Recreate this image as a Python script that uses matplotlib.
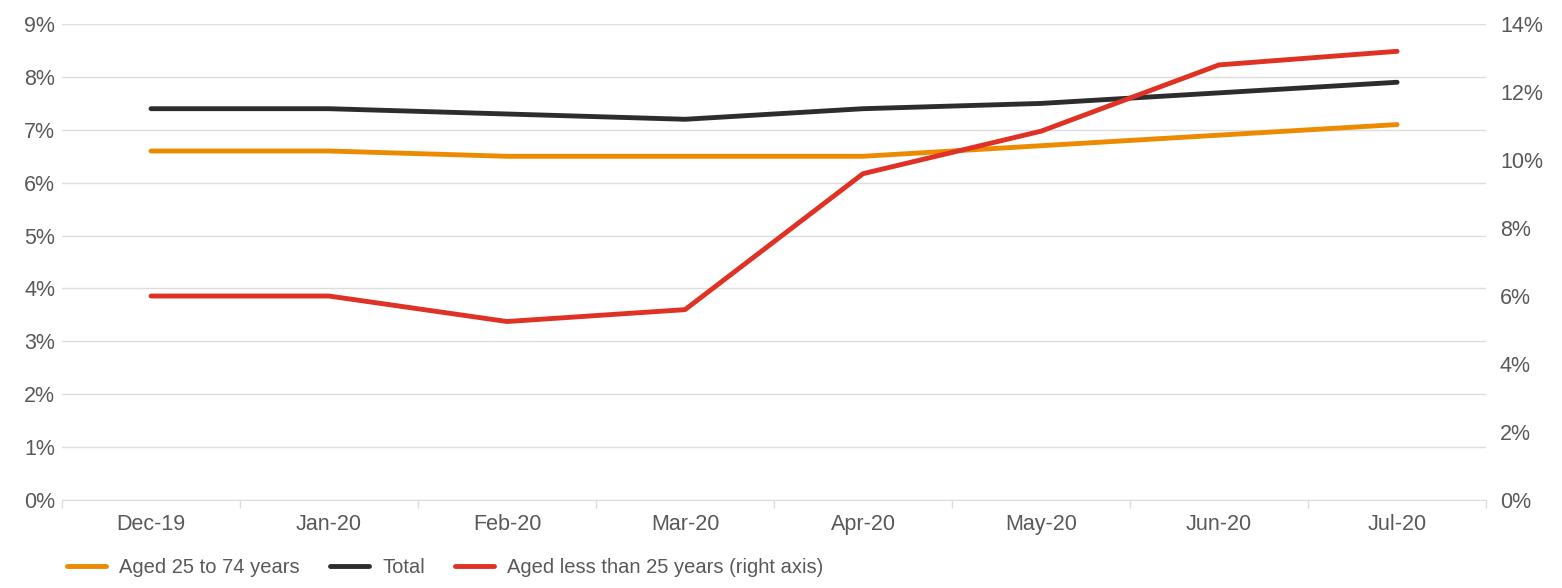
import matplotlib.pyplot as plt
import numpy as np

plt.rcParams['font.family'] = ['Liberation Sans', 'DejaVu Sans']

months = ['Dec-19', 'Jan-20', 'Feb-20', 'Mar-20', 'Apr-20', 'May-20', 'Jun-20', 'Jul-20']
aged_25_74 = [6.6, 6.6, 6.5, 6.5, 6.5, 6.7, 6.9, 7.1]
total = [7.4, 7.4, 7.3, 7.2, 7.4, 7.5, 7.7, 7.9]
aged_under_25 = [6.0, 6.0, 5.25, 5.6, 9.6, 10.85, 12.8, 13.2]

orange = '#ED8B00'
dark = '#2D2D2D'
red = '#E03125'
grid_c = '#DDDDDD'
text_c = '#595959'

fig, ax1 = plt.subplots(figsize=(15.62, 5.88), dpi=100)
fig.subplots_adjust(left=0.0397, right=0.9514, top=0.959, bottom=0.1497)

x = np.arange(len(months))
l1, = ax1.plot(x, aged_25_74, color=orange, lw=3.5, solid_capstyle='round', label='Aged 25 to 74 years', zorder=3)
l2, = ax1.plot(x, total, color=dark, lw=3.5, solid_capstyle='round', label='Total', zorder=3)

ax2 = ax1.twinx()  # right axis for the under-25 series
l3, = ax2.plot(x, aged_under_25, color=red, lw=3.5, solid_capstyle='round', label='Aged less than 25 years (right axis)', zorder=3)

ax1.set_xlim(-0.5, len(months) - 0.5)
ax1.set_ylim(0, 9)
ax2.set_ylim(0, 14)
ax1.set_yticks(range(0, 10))
ax1.set_yticklabels([f'{v}%' for v in range(0, 10)])
ax2.set_yticks(range(0, 15, 2))
ax2.set_yticklabels([f'{v}%' for v in range(0, 15, 2)])

ax1.set_xticks(x)
ax1.set_xticklabels(months)
ax1.set_xticks(np.arange(-0.5, len(months)), minor=True)
ax1.tick_params(axis='x', which='major', length=0, pad=10, labelsize=15.5, labelcolor=text_c)
ax1.tick_params(axis='x', which='minor', length=6, color=grid_c, width=1)
ax1.tick_params(axis='y', length=0, pad=5, labelsize=15.5, labelcolor=text_c)
ax2.tick_params(axis='y', length=0, pad=10, labelsize=15.5, labelcolor=text_c)

ax1.grid(axis='y', color=grid_c, lw=1)
ax1.set_axisbelow(True)
for ax in (ax1, ax2):
    for s in ['top', 'left', 'right']:
        ax.spines[s].set_visible(False)
    ax.spines['bottom'].set_color(grid_c)
ax2.spines['bottom'].set_visible(False)

fig.legend(handles=[l1, l2, l3], loc='lower left', bbox_to_anchor=(0.031, -0.012), ncol=3,
           frameon=False, fontsize=14.5, labelcolor=text_c, handlelength=1.95,
           handletextpad=0.65, columnspacing=1.5)

fig.savefig('out.png', dpi=100)
